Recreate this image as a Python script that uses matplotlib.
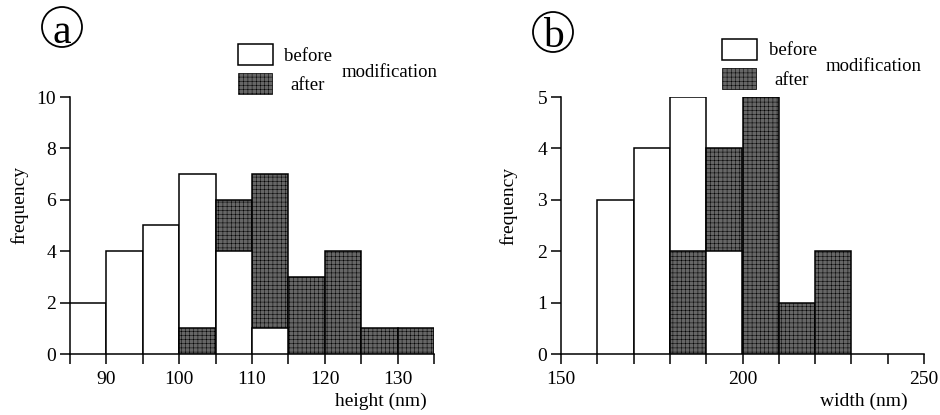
import numpy as np
import matplotlib.pyplot as plt
from matplotlib.patches import Rectangle, Circle

plt.rcParams['font.family'] = ['Liberation Serif', 'DejaVu Serif']
plt.rcParams['hatch.linewidth'] = 0.35

# --- data ---
# (a) height histogram, bins of 5 nm starting at 85
a_edges = np.arange(85, 135, 5)
a_before = [2, 4, 5, 7, 4, 1, 0, 0, 0, 0]
a_after = [0, 0, 0, 1, 6, 7, 3, 4, 1, 1]

# (b) width histogram, bins of 10 nm starting at 150
b_edges = np.arange(150, 250, 10)
b_before = [0, 3, 4, 5, 2, 0, 0, 0, 0, 0]
b_after = [0, 0, 0, 2, 4, 5, 1, 2, 0, 0]

W, H = 940, 415
fig = plt.figure(figsize=(W / 100, H / 100), dpi=100)

GRAY = '#666666'


def px_axes(x0, x1, ytop, ybot):
    return fig.add_axes([x0 / W, 1 - ybot / H, (x1 - x0) / W, (ybot - ytop) / H])


def draw_hist(ax, edges, before, after, width):
    # the shorter bar of each bin sits in front
    for x, hb, ha in zip(edges, before, after):
        zb, za = (4, 3) if hb <= ha else (3, 4)
        if hb > 0:
            ax.bar(x, hb, width=width, align='edge', facecolor='white',
                   edgecolor='black', linewidth=1.1, zorder=zb)
        if ha > 0:
            ax.bar(x, ha, width=width, align='edge', facecolor=GRAY,
                   edgecolor='black', hatch='++++', linewidth=1.1, zorder=za)


def style(ax):
    for s in ('top', 'right'):
        ax.spines[s].set_visible(False)
    for s in ('left', 'bottom'):
        ax.spines[s].set_linewidth(1.1)
    ax.tick_params(direction='out', length=7, width=1.1, labelsize=14)
    ax.tick_params(axis='y', pad=3)
    ax.tick_params(axis='x', pad=5)


def legend(xbox, ytop_w, ytop_g, xb, yb, xa, ya, xm, ym):
    fig.patches.append(Rectangle((xbox / W, 1 - (ytop_w + 21) / H), 35 / W, 21 / H,
                                 transform=fig.transFigure, facecolor='white',
                                 edgecolor='black', linewidth=1.1))
    fig.patches.append(Rectangle((xbox / W, 1 - (ytop_g + 21) / H), 34 / W, 21 / H,
                                 transform=fig.transFigure, facecolor=GRAY, hatch='++++',
                                 edgecolor='black', linewidth=0.5))
    fig.text(xb / W, 1 - yb / H, 'before', fontsize=13.5, va='baseline')
    fig.text(xa / W, 1 - ya / H, 'after', fontsize=13.5, va='baseline')
    fig.text(xm / W, 1 - ym / H, 'modification', fontsize=13.5, va='baseline')


def panel_letter(cx, cy, letter, base):
    fig.patches.append(Circle((cx / 100, (H - cy) / 100), 0.20,
                              transform=fig.dpi_scale_trans, facecolor='none',
                              edgecolor='black', linewidth=1.3))
    fig.text(cx / W, 1 - base / H, letter, fontsize=30, ha='center', va='baseline')


# --- panel a ---
ax1 = px_axes(70, 434, 97, 354)
draw_hist(ax1, a_edges, a_before, a_after, 5)
ax1.set_xlim(85, 135)
ax1.set_ylim(0, 10)
ax1.set_xticks(np.arange(85, 136, 5))
ax1.set_xticklabels([str(v) if v % 10 == 0 and v not in (85, 135) else ''
                     for v in range(85, 136, 5)])
ax1.set_yticks(np.arange(0, 11, 2))
style(ax1)
fig.text(427 / W, 1 - 406 / H, 'height (nm)', fontsize=14, ha='right', va='baseline')
fig.text(19 / W, 1 - 205 / H, 'frequency', fontsize=14, rotation=90, ha='center', va='center')
legend(238, 44, 73, 284, 61, 290, 90, 342, 77)
panel_letter(62, 27, 'a', 43)

# --- panel b ---
ax2 = px_axes(561, 924, 97, 354)
draw_hist(ax2, b_edges, b_before, b_after, 10)
ax2.set_xlim(150, 250)
ax2.set_ylim(0, 5)
ax2.set_xticks(np.arange(150, 251, 10))
ax2.set_xticklabels([str(v) if v % 50 == 0 else '' for v in range(150, 251, 10)])
ax2.set_yticks(np.arange(0, 6, 1))
style(ax2)
fig.text(908 / W, 1 - 406 / H, 'width (nm)', fontsize=14, ha='right', va='baseline')
fig.text(508 / W, 1 - 206 / H, 'frequency', fontsize=14, rotation=90, ha='center', va='center')
legend(722, 39, 68, 769, 55, 774, 85, 826, 71)
panel_letter(553, 32, 'b', 47)

fig.savefig('out.png', dpi=100)
